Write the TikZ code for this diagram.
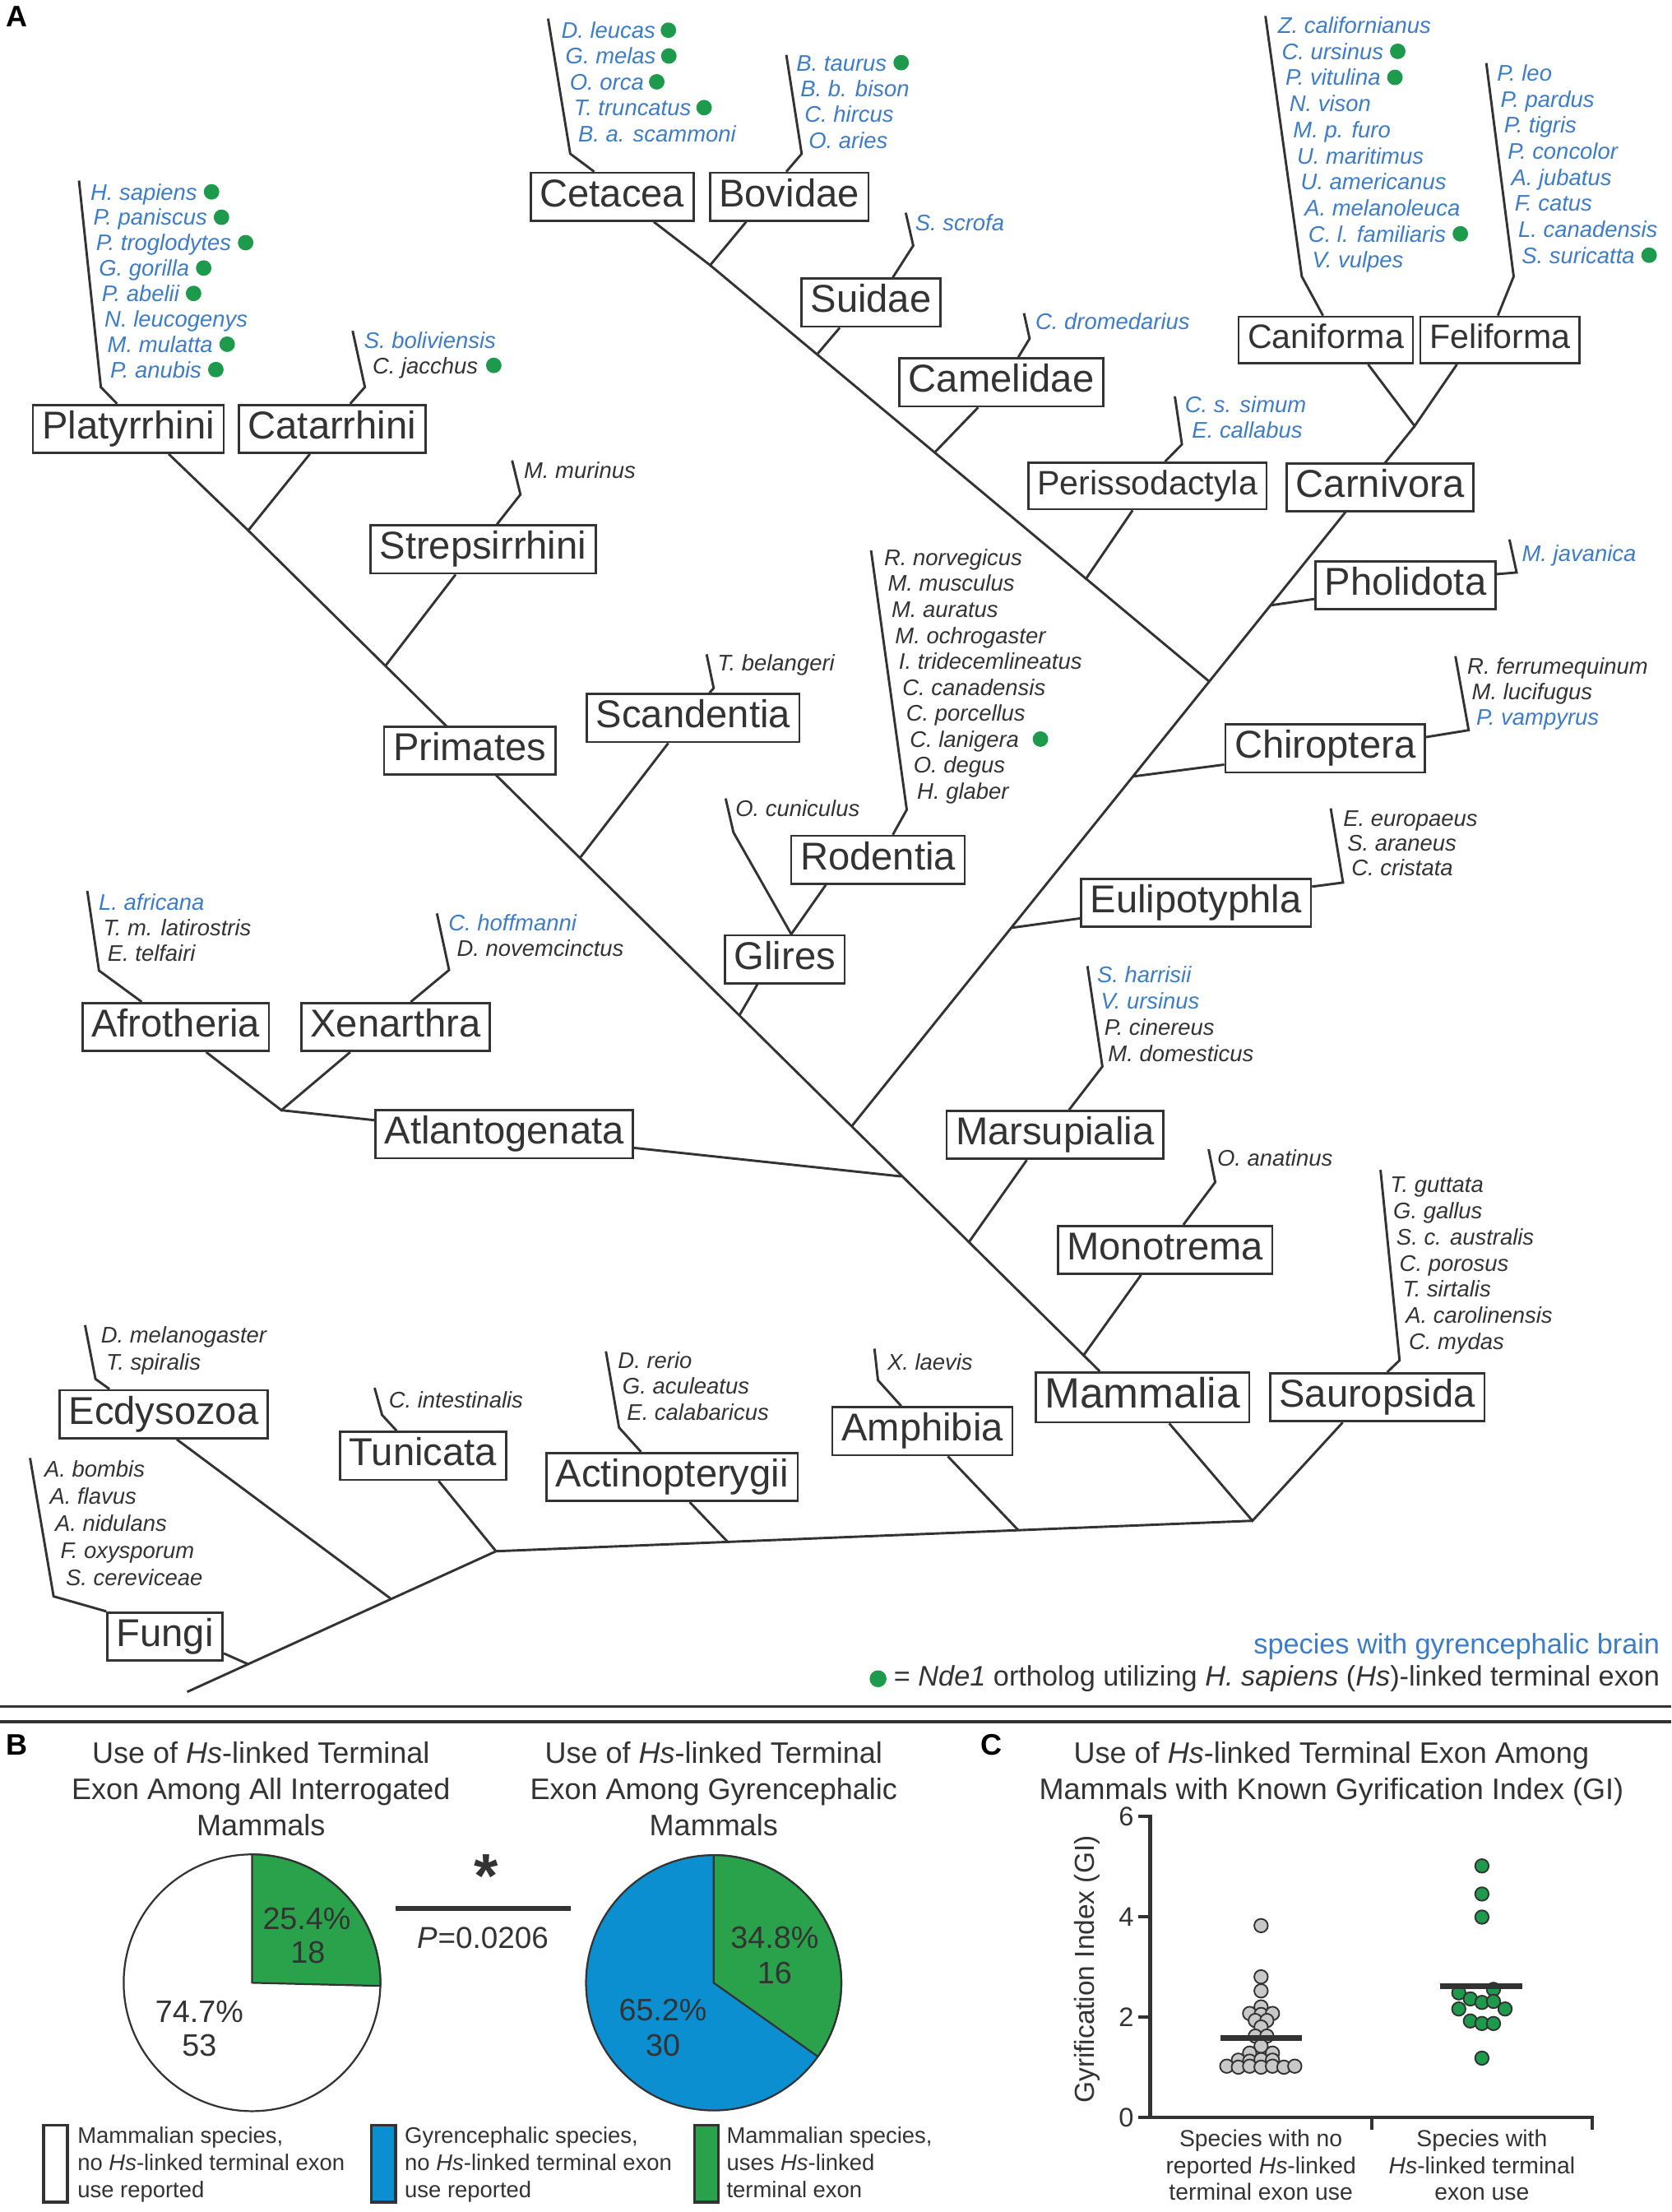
\documentclass[tikz,border=0pt]{standalone}
\usepackage{fontspec}
\setmainfont{Liberation Sans}
\usetikzlibrary{calc}
\pgfdeclarelayer{background}
\pgfsetlayers{background,main}
\definecolor{ck}{HTML}{333333}
\definecolor{cb}{HTML}{3D7DC8}
\definecolor{dgreen}{HTML}{1E9A4C}
\definecolor{pblue}{HTML}{0B8FD0}
\definecolor{pgreen}{HTML}{2AA14B}
\definecolor{gdotc}{HTML}{C8C8C8}
\tikzset{
  clade/.style={draw=ck, line width=1.6pt, fill=white, text=ck, inner xsep=6.5pt, inner ysep=4.5pt,
    text height=19.5pt, text depth=5.5pt, font=\fontsize{27.5}{28}\selectfont},
  cladesm/.style={clade, inner ysep=5.5pt, text height=17pt, text depth=5pt, font=\fontsize{24}{25}\selectfont},
  cladebig/.style={clade, inner ysep=3.8pt, text height=21.5pt, text depth=6.3pt, font=\fontsize{30}{31}\selectfont},
  sp/.style={anchor=west, inner sep=0pt, text height=11.5pt, text depth=0pt, font=\fontsize{16}{18}\selectfont\itshape},
  br/.style={draw=ck, line width=1.7pt},
  lbl/.style={font=\fontsize{21}{21}\selectfont\bfseries, text=black, inner sep=0pt},
  ttl/.style={font=\fontsize{21}{25.5}\selectfont, text=ck, align=center, inner sep=0pt, anchor=north},
  pl/.style={font=\fontsize{22}{22}\selectfont, text=ck, inner sep=0pt},
  lg/.style={font=\fontsize{16}{19.3}\selectfont, text=ck, align=left, inner sep=0pt, anchor=north west},
  xl/.style={font=\fontsize{16.5}{19}\selectfont, text=ck, align=center, inner sep=0pt, anchor=north},
  gd/.style={fill=gdotc, draw=ck, line width=1.1pt},
  grd/.style={fill=dgreen, draw=ck, line width=1.1pt},
  wedge/.style={draw=ck, line width=1.3pt, line join=round},
}
\newcommand\SpList[6]{%
  \foreach \txt/\col/\gap [count=\idx from 0] in {#6}{%
    \node[sp,text=\col] (#1\idx) at ({#2+\idx*#4},{#3+\idx*#5}) {\txt};
    \ifnum\gap>0 \fill[dgreen] ($(#1\idx.east)+(\gap,0)$) circle (5.5);\fi
  }%
}
\begin{document}
\begin{tikzpicture}[x=1pt,y=-1pt]
\useasboundingbox (0,0) rectangle (1185,1568);

% ---------------- Panel A : clade boxes ----------------
\node[lbl] (lblA) at (12,12) {A};
\node[clade] (Platy) at (91,304) {Platyrrhini};
\node[clade] (Cata) at (235.5,304) {Catarrhini};
\node[clade] (Strep) at (342.5,389.5) {Strepsirrhini};
\node[clade] (Prim) at (333,532) {Primates};
\node[clade] (Scand) at (491.5,509) {Scandentia};
\node[clade] (Rod) at (622.5,609.5) {Rodentia};
\node[clade] (Glires) at (556.5,680) {Glires};
\node[clade] (Ceta) at (434,139.5) {Cetacea};
\node[clade] (Bov) at (559.5,139.5) {Bovidae};
\node[clade] (Suid) at (617.5,214.5) {Suidae};
\node[clade] (Came) at (710,271) {Camelidae};
\node[cladesm] (Peri) at (813.5,344.5) {Perissodactyla};
\node[cladesm] (Cani) at (940,241) {Caniforma};
\node[cladesm] (Feli) at (1063.5,241) {Feliforma};
\node[clade] (Carn) at (978.5,345.5) {Carnivora};
\node[clade] (Phol) at (996.5,415) {Pholidota};
\node[clade] (Chir) at (939.5,530.5) {Chiroptera};
\node[clade] (Euli) at (848,640) {Eulipotyphla};
\node[clade] (Afro) at (124.5,728) {Afrotheria};
\node[clade] (Xen) at (280.5,728) {Xenarthra};
\node[clade] (Atl) at (357.5,804) {Atlantogenata};
\node[clade] (Mars) at (748,804.5) {Marsupialia};
\node[clade] (Mono) at (826,886) {Monotrema};
\node[cladebig] (Mamm) at (810,990.5) {Mammalia};
\node[clade] (Saur) at (976.5,990.5) {Sauropsida};
\node[clade] (Ecd) at (116,1002.5) {Ecdysozoa};
\node[clade] (Tun) at (300,1032) {Tunicata};
\node[clade] (Actino) at (476.5,1047) {Actinopterygii};
\node[clade] (Amph) at (654,1014.5) {Amphibia};
\node[clade] (Fungi) at (117,1160) {Fungi};

% ---------------- species lists ----------------
\SpList{prim}{64}{136}{2}{18}{H. sapiens/cb/10, P. paniscus/cb/10, P. troglodytes/cb/10, G. gorilla/cb/10, P. abelii/cb/10, N. leucogenys/cb/0, M. mulatta/cb/10, P. anubis/cb/10}
\SpList{cata}{258}{241}{6}{18}{S. boliviensis/cb/0, C. jacchus/ck/11}
\node[sp,text=ck] (strepS) at (371.3,333.5) {M. murinus};
\node[sp,text=ck] (scandS) at (508.5,470) {T. belangeri};
\SpList{rod}{626.7}{395.1}{2.6}{18.4}{R. norvegicus/ck/0, M. musculus/ck/0, M. auratus/ck/0, M. ochrogaster/ck/0, I. tridecemlineatus/ck/0, C. canadensis/ck/0, C. porcellus/ck/0, C. lanigera/ck/15, O. degus/ck/0, H. glaber/ck/0}
\node[sp,text=ck] (lagS) at (521.3,573.1) {O. cuniculus};
\SpList{ceta}{397.8}{21.4}{3}{18.3}{D. leucas/cb/9, G. melas/cb/9, O. orca/cb/9, T. truncatus/cb/9, B. a. scammoni/cb/0}
\SpList{bov}{564.5}{44.4}{2.9}{18.3}{B. taurus/cb/10, B. b. bison/cb/0, C. hircus/cb/0, O. aries/cb/0}
\node[sp,text=cb] (suidS) at (648.7,158) {S. scrofa};
\node[sp,text=cb] (cameS) at (734,228) {C. dromedarius};
\SpList{peri}{840}{286.5}{5}{18}{C. s. simum/cb/0, E. callabus/cb/0}
\SpList{cani}{905.9}{17.9}{2.7}{18.48}{Z. californianus/cb/0, C. ursinus/cb/10, P. vitulina/cb/10, N. vison/cb/0, M. p. furo/cb/0, U. maritimus/cb/0, U. americanus/cb/0, A. melanoleuca/cb/0, C. l. familiaris/cb/10, V. vulpes/cb/0}
\SpList{feli}{1061.3}{51.6}{2.5}{18.47}{P. leo/cb/0, P. pardus/cb/0, P. tigris/cb/0, P. concolor/cb/0, A. jubatus/cb/0, F. catus/cb/0, L. canadensis/cb/0, S. suricatta/cb/10}
\node[sp,text=cb] (pholS) at (1078.9,392) {M. javanica};
\SpList{chir}{1040.2}{472}{3.2}{18}{R. ferrumequinum/ck/0, M. lucifugus/ck/0, P. vampyrus/cb/0}
\SpList{euli}{952.2}{579.9}{2.9}{17.6}{E. europaeus/ck/0, S. araneus/ck/0, C. cristata/ck/0}
\SpList{afro}{69.9}{639.3}{3.1}{18.2}{L. africana/cb/0, T. m. latirostris/ck/0, E. telfairi/ck/0}
\SpList{xen}{317.8}{653.9}{6}{18.5}{C. hoffmanni/cb/0, D. novemcinctus/ck/0}
\SpList{mars}{777.7}{690.6}{2.6}{18.7}{S. harrisii/cb/0, V. ursinus/cb/0, P. cinereus/ck/0, M. domesticus/ck/0}
\node[sp,text=ck] (monoS) at (862.8,821) {O. anatinus};
\SpList{saur}{985.5}{839.6}{2.2}{18.55}{T. guttata/ck/0, G. gallus/ck/0, S. c. australis/ck/0, C. porosus/ck/0, T. sirtalis/ck/0, A. carolinensis/ck/0, C. mydas/ck/0}
\node[sp,text=ck] (amphS) at (629,965.5) {X. laevis};
\SpList{act}{438}{964.2}{3.2}{18.4}{D. rerio/ck/0, G. aculeatus/ck/0, E. calabaricus/ck/0}
\node[sp,text=ck] (tunS) at (275.5,992.3) {C. intestinalis};
\SpList{ecd}{71.4}{946.1}{3.7}{19.3}{D. melanogaster/ck/0, T. spiralis/ck/0}
\SpList{fun}{31.3}{1041.3}{3.8}{19.25}{A. bombis/ck/0, A. flavus/ck/0, A. nidulans/ck/0, F. oxysporum/ck/0, S. cereviceae/ck/0}

% legend of panel A
\node[anchor=east, font=\fontsize{20}{20}\selectfont, text=cb, inner sep=0pt] (leg1) at (1177,1167) {species with gyrencephalic brain};
\node[anchor=east, font=\fontsize{20}{20}\selectfont, text=ck, inner sep=0pt] (leg2) at (1177,1190) {= \textit{Nde1} ortholog utilizing \textit{H. sapiens} (\textit{Hs})-linked terminal exon};
\fill[dgreen] ($(leg2.west)+(-11,0)$) circle (6);

% ---------------- junction coordinates ----------------
\coordinate (P0) at (176,376);
\coordinate (jStrep) at (273.2,472.1);
\coordinate (jScand) at (411,608.4);
\coordinate (jGlires) at (524,720.1);
\coordinate (jLaur) at (603.5,798.8);
\coordinate (jAtl) at (639,833.9);
\coordinate (jMars) at (686.6,881);
\coordinate (jMono) at (767.8,961.3);
\coordinate (jCarn) at (1003,302);
\coordinate (jPhol) at (900.8,429.1);
\coordinate (jCeta) at (857.4,483.1);
\coordinate (jChir) at (803.3,550.4);
\coordinate (jEuli) at (717,657.7);
\coordinate (jCB) at (503.5,188);
\coordinate (jSuid) at (579.3,251.2);
\coordinate (jCame) at (662.7,320.7);
\coordinate (jPeri) at (770,410.2);
\coordinate (jAX) at (199.5,787);
\coordinate (jAmn) at (888,1078);
\coordinate (jAmph) at (722,1084.7);
\coordinate (jAct) at (516,1093);
\coordinate (jTun) at (351.7,1099.6);
\coordinate (jEcd) at (277.4,1133.5);
\coordinate (jFun) at (176,1179.7);
\coordinate (root) at (132.7,1199.3);
\coordinate (jGl) at ($(Glires.north)+(4.5,0)$);

\begin{pgfonlayer}{background}
\fill[white] (0,0) rectangle (1185,1568);
% main lines
\draw[br] (P0) -- ($(Mamm.north)+(-30.3,0)$);
\draw[br] ($(Platy.south)+(28.6,0)$) -- (P0) -- ($(Cata.south)+(-15.8,0)$);
\draw[br] ($(Strep.south)+(-19.5,0)$) -- (jStrep);
\draw[br] ($(Scand.south)+(-17.7,0)$) -- (jScand);
\draw[br] ($(Glires.south)+(-19.5,0)$) -- (jGlires);
\draw[br] ($(Rod.south)+(-37,0)$) -- (jGl);
\draw[br] (514.5,566) -- (520,590) -- (jGl);
\draw[br] (jCarn) -- (jLaur);
\draw[br] ($(Cani.south)+(30,0)$) -- (jCarn) -- ($(Feli.south)+(-30.5,0)$);
\draw[br] (jPhol) -- ($(Phol.west)+(0,9.6)$);
\draw[br] (jChir) -- ($(Chir.west)+(0,11.5)$);
\draw[br] (jEuli) -- ($(Euli.west)+(0,11)$);
\draw[br] (jCB) -- (jCeta);
\draw[br] ($(Ceta.south)+(29.6,0)$) -- (jCB) -- ($(Bov.south)+(-30.5,0)$);
\draw[br] ($(Suid.south)+(-22.1,0)$) -- (jSuid);
\draw[br] ($(Came.south)+(-16.5,0)$) -- (jCame);
\draw[br] ($(Peri.south)+(-10.5,0)$) -- (jPeri);
\draw[br] ($(Afro.south)+(21.7,0)$) -- (jAX) -- ($(Xen.south)+(-32.2,0)$);
\draw[br] (jAX) -- (jAtl);
\draw[br] ($(Mars.south)+(-20,0)$) -- (jMars);
\draw[br] ($(Mono.south)+(-17,0)$) -- (jMono);
\draw[br] ($(Mamm.south)+(19,0)$) -- (jAmn) -- ($(Saur.south)+(-24.5,0)$);
\draw[br] (jAmn) -- (jTun) -- (root);
\draw[br] ($(Amph.south)+(18,0)$) -- (jAmph);
\draw[br] ($(Actino.south)+(12.5,0)$) -- (jAct);
\draw[br] ($(Tun.south)+(11,0)$) -- (jTun);
\draw[br] ($(Ecd.south)+(9.3,0)$) -- (jEcd);
\draw[br] ($(Fungi.east)+(0,12)$) -- (jFun);
% species brackets
\draw[br] (56,128) -- (71.5,274.4) -- ($(Platy.north)+(-8,0)$);
\draw[br] (250,234.5) -- (258.7,274.4) -- ($(Cata.north)+(12.8,0)$);
\draw[br] (363.1,326.4) -- (369,350.5) -- ($(Strep.north)+(9.8,0)$);
\draw[br] (501,463.8) -- (506,487.8) -- ($(Scand.north)+(11.5,0)$);
\draw[br] (617.6,390.2) -- (642.9,574) -- ($(Rod.north)+(10.5,0)$);
\draw[br] (388.6,13.2) -- (404.3,109) -- ($(Ceta.north)+(-12.7,0)$);
\draw[br] (557.5,38.9) -- (568.4,109) -- ($(Bov.north)+(-2,0)$);
\draw[br] (642.2,150.8) -- (647.5,174.1) -- ($(Suid.north)+(15.5,0)$);
\draw[br] (726,222) -- (730,240) -- ($(Came.north)+(12,0)$);
\draw[br] (833,281) -- (838,315) -- ($(Peri.north)+(12.5,0)$);
\draw[br] (897.2,11.3) -- (923,196) -- ($(Cani.north)+(-2,0)$);
\draw[br] (1053.8,44.7) -- (1073.2,196) -- ($(Feli.north)+(-1.5,0)$);
\draw[br] ($(Phol.east)+(0,-8)$) -- (1075.3,405.8) -- (1070.2,382.4);
\draw[br] ($(Chir.east)+(0,-8)$) -- (1041.3,517.6) -- (1031.9,465.1);
\draw[br] ($(Euli.east)+(0,-11.5)$) -- (952.2,625.6) -- (943.5,573);
\draw[br] (61.9,631.5) -- (70.2,688) -- ($(Afro.north)+(-24,0)$);
\draw[br] (309.8,647.5) -- (318.4,687.6) -- ($(Xen.north)+(10.7,0)$);
\draw[br] (771,684.8) -- (781.6,756) -- ($(Mars.north)+(10,0)$);
\draw[br] (856.9,814.6) -- (861.6,838) -- ($(Mono.north)+(13,0)$);
\draw[br] (978.8,829.3) -- (992.3,964.3) -- ($(Saur.north)+(7,0)$);
\draw[br] (620,956) -- (622.5,978.4) -- ($(Amph.north)+(-15,0)$);
\draw[br] (429.6,957.9) -- (438.9,1011.9) -- ($(Actino.north)+(-22,0)$);
\draw[br] (265.6,983.8) -- (270.9,1003) -- ($(Tun.north)+(-18.8,0)$);
\draw[br] (60.3,939.3) -- (67.7,977.5) -- ($(Ecd.north)+(-38.3,0)$);
\draw[br] (21.3,1033.5) -- (38,1131.6) -- (Fungi.north west);
\end{pgfonlayer}

% separators
\draw[ck, line width=2pt] (0,1209.5) coordinate (sA) -- (1185,1209.5) coordinate (sB);
\draw[ck, line width=2pt] (0,1220.5) coordinate (sC) -- (1185,1220.5) coordinate (sD);

% ---------------- Panel B ----------------
\node[lbl] (lblB) at (12,1237) {B};
\node[ttl] (tB1) at (185,1234.5) {Use of \textit{Hs}-linked Terminal\\Exon Among All Interrogated\\Mammals};
\node[ttl] (tB2) at (506,1234.5) {Use of \textit{Hs}-linked Terminal\\Exon Among Gyrencephalic\\Mammals};
\coordinate (pc1) at (178.7,1405.5);
\draw[wedge, fill=white] (pc1) circle (91);
\filldraw[wedge, fill=pgreen] (pc1) -- ++(-90:91) arc[start angle=-90, end angle=1.4, radius=91] -- cycle;
\node[pl] (p1a) at (217.5,1360) {25.4\%};
\node[pl] (p1b) at (218.3,1384) {18};
\node[pl] (p1c) at (141.3,1426) {74.7\%};
\node[pl] (p1d) at (141.3,1450) {53};
\coordinate (pc2) at (506,1405.5);
\filldraw[wedge, fill=pblue] (pc2) circle (90.5);
\filldraw[wedge, fill=pgreen] (pc2) -- ++(-90:90.5) arc[start angle=-90, end angle=35.3, radius=90.5] -- cycle;
\node[pl] (p2a) at (549.2,1373.7) {34.8\%};
\node[pl] (p2b) at (549.2,1398.7) {16};
\node[pl] (p2c) at (470,1424.8) {65.2\%};
\node[pl] (p2d) at (470,1449.8) {30};
\node[font=\fontsize{44}{44}\selectfont\bfseries, text=ck, inner sep=0pt] (star) at (344.6,1330) {*};
\draw[ck, line width=3.5pt] (280.4,1352.6) coordinate (barL) -- (404.5,1352.6) coordinate (barR);
\node[pl, font=\fontsize{21.5}{22}\selectfont] (pval) at (342.5,1373.7) {\textit{P}=0.0206};
\draw[ck, line width=2pt, fill=white] (30.8,1506.5) rectangle (47.9,1561);
\draw[ck, line width=2pt, fill=pblue] (263.3,1506.5) rectangle (280.4,1561);
\draw[ck, line width=2pt, fill=pgreen] (492.3,1506.5) rectangle (509.4,1561);
\node[lg] (lg1) at (54.8,1507.5) {Mammalian species,\\no \textit{Hs}-linked terminal exon\\use reported};
\node[lg] (lg2) at (286.8,1507.5) {Gyrencephalic species,\\no \textit{Hs}-linked terminal exon\\use reported};
\node[lg] (lg3) at (515,1507.5) {Mammalian species,\\uses \textit{Hs}-linked\\terminal exon};

% ---------------- Panel C ----------------
\node[lbl] (lblC) at (703,1237) {C};
\node[ttl] (tC) at (944,1234.5) {Use of \textit{Hs}-linked Terminal Exon Among\\Mammals with Known Gyrification Index (GI)};
\draw[ck, line width=2.4pt, line cap=rect] (815.5,1287.4) coordinate (yTop) -- (815.5,1500.9) coordinate (ax0) -- (1129,1500.9) coordinate (xEnd);
\foreach \v in {0,2,4,6}{
  \draw[ck, line width=2.4pt] (807.3,{1500.9-35.58*\v}) -- (815.5,{1500.9-35.58*\v});
  \node[anchor=east, font=\fontsize{19}{19}\selectfont, text=ck, inner sep=0pt] (yt\v) at (804,{1500.9-35.58*\v}) {\v};
}
\draw[ck, line width=2.4pt] (972.7,1500.9) -- (972.7,1509.5);
\draw[ck, line width=2.4pt] (1129,1500.9) -- (1129,1509.5);
\node[rotate=90, font=\fontsize{19.5}{20}\selectfont, text=ck, inner sep=0pt] (ylab) at (771,1396) {Gyrification Index (GI)};
\foreach \px/\v in {894.1/3.82, 894.1/2.80, 894.1/2.52, 894.1/2.20, 886/2.07, 894.1/2.05, 902.2/2.07, 890/1.93, 898.2/1.93, 894.1/1.80, 890/1.62, 898.2/1.62, 894.1/1.42, 886/1.28, 902.2/1.28, 878/1.14, 886/1.12, 894.1/1.15, 902.2/1.14, 869.8/1.02, 878/1.0, 886/1.02, 894.1/1.0, 902.2/1.02, 910.3/1.0, 918/1.02}{
  \filldraw[gd] (\px,{1500.9-35.58*\v}) circle (4.8);
}
\foreach \px/\v in {1050.7/5.01, 1050.7/4.45, 1050.7/3.99, 1034.3/2.48, 1058.9/2.55, 1042.5/2.36, 1050.7/2.29, 1058.9/2.31, 1034.3/2.16, 1067.1/2.16, 1042.5/1.92, 1050.7/1.87, 1058.9/1.87, 1050.7/1.18}{
  \filldraw[grd] (\px,{1500.9-35.58*\v}) circle (4.8);
}
\draw[ck, line width=4pt] (865.3,1444.5) coordinate (m1L) -- (922.9,1444.5) coordinate (m1R);
\draw[ck, line width=4pt] (1021.2,1407.8) coordinate (m2L) -- (1079.2,1407.8) coordinate (m2R);
\node[xl] (xl1) at (894,1509.5) {Species with no\\reported \textit{Hs}-linked\\terminal exon use};
\node[xl] (xl2) at (1050.7,1509.5) {Species with\\\textit{Hs}-linked terminal\\exon use};
\end{tikzpicture}
\end{document}
